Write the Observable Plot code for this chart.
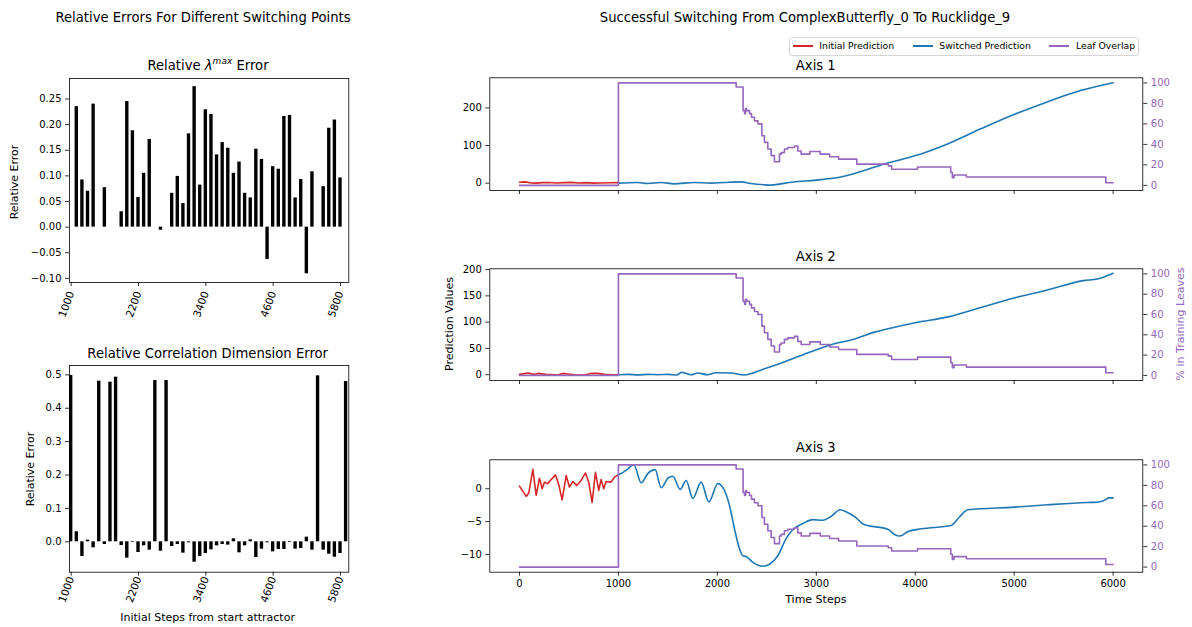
<!DOCTYPE html>
<html><head><meta charset="utf-8">
<script src="https://cdn.jsdelivr.net/npm/d3@7"></script>
<script src="https://cdn.jsdelivr.net/npm/@observablehq/plot@0.6"></script>
<style>
body{margin:0;background:#fff;font-family:"DejaVu Sans",sans-serif;}
#root{position:relative;width:1192px;height:627px;overflow:hidden;background:#fff;}
.pos{position:absolute;}
.t{position:absolute;white-space:nowrap;transform:translate(-50%,-50%);color:#000;line-height:1;}
.rot{transform:translate(-50%,-50%) rotate(-90deg);}
</style></head><body><div id="root"></div>
<script>
// ---------- data: left panels ----------
const steps = [1000,1100,1200,1300,1400,1500,1600,1700,1800,1900,2000,2100,2200,2300,2400,2500,2600,2700,2800,2900,3000,3100,3200,3300,3400,3500,3600,3700,3800,3900,4000,4100,4200,4300,4400,4500,4600,4700,4800,4900,5000,5100,5200,5300,5400,5500,5600,5700,5800,5900];
const lambdaErr = [null,0.235,0.092,0.070,0.240,null,0.077,null,null,0.030,0.245,0.188,0.058,0.105,0.171,null,-0.006,null,0.066,0.099,0.046,0.182,0.274,0.082,0.229,0.220,0.141,0.165,0.154,0.105,0.127,0.066,0.057,0.152,0.132,-0.063,0.118,0.113,0.216,0.218,0.057,0.093,-0.091,0.108,null,0.079,0.193,0.209,0.096,null];
const corrErr = [0.498,0.030,-0.044,0.005,-0.018,0.481,-0.008,0.478,0.493,-0.011,-0.049,-0.002,-0.032,-0.012,-0.025,0.483,-0.028,0.483,-0.014,-0.008,-0.034,-0.003,-0.061,-0.044,-0.035,-0.024,-0.012,-0.008,-0.010,0.009,-0.033,-0.012,0.006,-0.047,-0.022,-0.003,-0.030,-0.023,-0.023,-0.002,-0.022,-0.020,0.014,-0.025,0.497,-0.025,-0.037,-0.046,-0.035,0.480];
const stepTicks = [1000,2200,3400,4600,5800];
const lambdaTicks = [-0.10,-0.05,0.00,0.05,0.10,0.15,0.20,0.25];
const corrTicks = [0.0,0.1,0.2,0.3,0.4,0.5];

// ---------- data: right panels ([time step, value]) ----------
const timeTicks = [0,1000,2000,3000,4000,5000,6000];
const pctTicks = [0,20,40,60,80,100];
const axis1Ticks = [0,100,200];
const axis2Ticks = [0,50,100,150,200];
const axis3Ticks = [-10,-5,0];

const initial1 = [[0,2.5],[60,3.5],[120,0.5],[170,0],[230,1.5],[300,1.8],[380,0.5],[450,1.5],[520,2],[600,0.5],[680,1.5],[750,0],[820,0.5],[900,1],[1000,1.5]];
const switched1 = [[1000,0],[1194,1.8],[1295,-0.8],[1430,1.8],[1564,-1.8],[1766,1.8],[1934,0],[2069,1.8],[2237,3.5],[2338,-1],[2472,-4.4],[2540,-5.3],[2640,-1.8],[2750,2.5],[3000,8],[3258,16.8],[3493,34.5],[3728,54],[3997,72.6],[4332,105],[4668,145],[5003,183],[5335,216],[5670,246],[6000,267]];

const initial2 = [[0,0.6],[84,3.2],[151,0.6],[185,2.5],[269,0.6],[387,-0.6],[437,2.5],[488,1.3],[555,0],[656,-0.6],[723,2.5],[790,2.5],[858,0.6],[942,0],[1000,0]];
const switched2 = [[1000,0],[1100,0.6],[1200,-0.3],[1300,0.6],[1400,0],[1500,0.6],[1590,-0.6],[1638,4.4],[1732,0],[1800,3.2],[1900,0],[1985,3.8],[2136,3.2],[2270,-0.6],[2470,11],[2640,22],[2810,34],[2980,46],[3150,57],[3390,68],[3590,81],[3760,89],[4000,99],[4330,110],[4665,128],[5000,146],[5335,161],[5700,179],[5840,182],[6000,193]];

const initial3 = [[0,0.4],[68,-1.17],[95,-0.6],[135,2.94],[169,-1.0],[202,1.6],[229,0],[252,1.0],[286,0.76],[320,1.4],[364,2.1],[397,0.6],[431,-1.7],[472,2.0],[505,0.25],[539,1.1],[579,0.5],[623,1.26],[667,2.4],[700,1.0],[734,-2.1],[768,2.5],[801,-0.26],[825,1.4],[852,0],[875,1.1],[926,1.0],[960,1.77],[1000,2.1]];
const switched3 = [[1000,2.1],[1078,2.8],[1156,3.65],[1230,0.9],[1297,2.3],[1371,2.9],[1432,0.15],[1500,1.6],[1550,1.9],[1624,-0.1],[1685,1.26],[1752,-1.5],[1836,1.0],[1914,-2.0],[2005,0.8],[2055,0.2],[2122,-2.5],[2173,-6.1],[2223,-9.1],[2258,-10.2],[2291,-10.3],[2359,-11.2],[2460,-11.8],[2527,-11.5],[2611,-10.2],[2695,-7.6],[2763,-6.2],[2864,-5.3],[2965,-4.7],[3066,-4.8],[3150,-4.2],[3240,-3.2],[3300,-3.5],[3400,-4.4],[3476,-5.4],[3727,-6.2],[3794,-7.0],[3844,-7.2],[3928,-6.5],[4062,-6.1],[4363,-5.6],[4447,-4.3],[4531,-3.2],[5000,-2.8],[5335,-2.45],[5737,-2.1],[5838,-2.05],[5921,-1.7],[5955,-1.4],[6000,-1.4]];

const leafOverlap = [[0,0],[1000,100],[2190,96],[2260,73],[2275,70],[2285,75],[2295,73],[2325,70],[2345,66.5],[2375,63],[2410,60],[2450,48.5],[2476,42],[2510,35.5],[2544,29],[2577,23],[2628,30.5],[2645,32],[2678,35.5],[2712,37],[2779,38.5],[2813,33.5],[2847,30.5],[2935,33],[3040,30.5],[3135,28],[3225,25.6],[3409,20.7],[3728,19],[3762,15.7],[4023,18],[4359,12.5],[4375,7.5],[4392,10.2],[4517,8.2],[5926,2.6],[6000,2.6]];

// ---------- styling ----------
const RED = "#d62728", BLUE = "#1f77b4", PURPLE = "#9467bd";
const FONT = '"DejaVu Sans", sans-serif';
const svgStyle = {fontFamily: FONT, fontSize: "10px", color: "#000", background: "transparent", overflow: "visible"};
const root = document.getElementById("root");

function place(el, left, top) {
  const d = document.createElement("div");
  d.className = "pos";
  d.style.left = left + "px"; d.style.top = top + "px";
  d.appendChild(el); root.appendChild(d);
}
function label(html, x, y, size, opts = {}) {
  const d = document.createElement("div");
  d.className = "t" + (opts.rot ? " rot" : "");
  d.style.left = x + "px"; d.style.top = y + "px";
  d.style.fontSize = size + "px";
  if (opts.color) d.style.color = opts.color;
  d.innerHTML = html; root.appendChild(d);
}

// ---------- left bar charts ----------
function barChart(values, top, mt, mb, yDomain, yTicks, yFmt, labelDy) {
  const rows = steps.map((s, i) => ({s, v: values[i]})).filter(d => d.v != null);
  const W = 365, H = 280;
  const p = Plot.plot({
    width: W, height: H, marginLeft: 69, marginRight: W - 348.3, marginTop: mt, marginBottom: mb,
    x: {domain: [970, 5948], label: null},
    y: {domain: yDomain, label: null},
    style: svgStyle,
    marks: [
      Plot.rect(rows, {x1: d => d.s - 30, x2: d => d.s + 30, y1: 0, y2: "v", fill: "#000"}),
      Plot.axisX(stepTicks, {tickSize: 4, tickFormat: () => "", label: null, strokeWidth: 0.8}),
      Plot.text(stepTicks, {x: d => d, frameAnchor: "bottom", text: d => String(d), rotate: -70, dy: labelDy, dx: -1.5, fontSize: 10.5}),
      Plot.axisY(yTicks, {tickSize: 4, tickPadding: 4, tickFormat: yFmt, label: null, fontSize: 10, strokeWidth: 0.8}),
      Plot.frame({stroke: "#000", strokeWidth: 0.8})
    ]
  });
  place(p, 0, top);
}
barChart(lambdaErr, 55, 23, 280 - (282 - 55), [-0.108, 0.290], lambdaTicks, d3.format(".2f"), 23);
barChart(corrErr, 345, 20, 280 - (571.7 - 345), [-0.091, 0.528], corrTicks, d3.format(".1f"), 18.5);

// ---------- right line panels ----------
function linePanel(top, H, mt, mb, yDomain, yTicks, init, sw, showX) {
  const W = 762, ML = 59.3, MR = 762 - 712.3;
  const base = Plot.plot({
    width: W, height: H, marginLeft: ML, marginRight: MR, marginTop: mt, marginBottom: mb,
    x: {domain: [-300, 6300], label: null},
    y: {domain: yDomain, label: null},
    style: svgStyle,
    marks: [
      Plot.line(init, {x: d => d[0], y: d => d[1], stroke: RED, strokeWidth: 1.6}),
      Plot.line(sw, {x: d => d[0], y: d => d[1], stroke: BLUE, strokeWidth: 1.6, curve: "monotone-x"}),
      Plot.axisX(timeTicks, {tickSize: 4, tickPadding: 4, tickFormat: showX ? d3.format("d") : () => "", label: null, fontSize: 10, strokeWidth: 0.8}),
      Plot.axisY(yTicks, {tickSize: 4, tickPadding: 4, tickFormat: d3.format("d"), label: null, fontSize: 10, strokeWidth: 0.8}),
      Plot.frame({stroke: "#000", strokeWidth: 0.8})
    ]
  });
  place(base, 430, top);
  const over = Plot.plot({
    width: W, height: H, marginLeft: ML, marginRight: MR, marginTop: mt, marginBottom: mb,
    x: {domain: [-300, 6300], axis: null},
    y: {domain: [-5, 105], label: null},
    style: svgStyle,
    marks: [
      Plot.line(leafOverlap, {x: d => d[0], y: d => d[1], stroke: PURPLE, strokeWidth: 1.6, curve: "step-after"}),
      Plot.axisY(pctTicks, {anchor: "right", tickSize: 4, tickFormat: () => "", label: null, strokeWidth: 0.8}),
      Plot.text(pctTicks, {y: d => d, frameAnchor: "right", text: d => String(d), dx: 8, textAnchor: "start", fill: PURPLE, fontSize: 10})
    ]
  });
  place(over, 430, top);
}
linePanel(60, 145, 17.3, 145 - (190 - 60), [-19.5, 280], axis1Ticks, initial1, switched1, false);
linePanel(250, 145, 18.3, 145 - (380 - 250), [-11, 201.5], axis2Ticks, initial2, switched2, false);
linePanel(440, 150, 19.3, 150 - (571.7 - 440), [-12.7, 4.4], axis3Ticks, initial3, switched3, true);

// ---------- texts ----------
label("Relative Errors For Different Switching Points", 203, 18, 13.2);
label("Successful Switching From ComplexButterfly_0 To Rucklidge_9", 805, 18, 13.2);
label('Relative <i>λ</i><sup style="font-size:9px;font-style:italic;vertical-align:6px">max</sup> Error', 208, 65, 13.2);
label("Relative Correlation Dimension Error", 207.7, 354, 13.2);
label("Relative Error", 14.2, 181.7, 11, {rot: true});
label("Relative Error", 30, 469.2, 11, {rot: true});
label("Initial Steps from start attractor", 207.6, 617, 11);
label("Axis 1", 815.8, 66, 13.2);
label("Axis 2", 815.8, 257.3, 13.2);
label("Axis 3", 815.8, 448.3, 13.2);
label("Time Steps", 815.8, 599, 11);
label("Prediction Values", 449.2, 324, 11, {rot: true});
label("% in Training Leaves", 1180, 324, 11, {rot: true, color: PURPLE});

// ---------- legend ----------
const legendItems = [["Initial Prediction", RED, 2.7], ["Switched Prediction", BLUE, 122.7], ["Leaf Overlap", PURPLE, 259.3]];
const lg = document.createElement("div");
lg.className = "pos";
Object.assign(lg.style, {left: "789px", top: "37px", width: "348px", height: "17px", border: "1px solid #d6d6d6", borderRadius: "3px", background: "rgba(255,255,255,0.8)"});
legendItems.forEach(([name, col, x]) => {
  const ln = document.createElement("div");
  Object.assign(ln.style, {position: "absolute", left: x + "px", top: "7.2px", width: "20px", height: "1.6px", background: col});
  lg.appendChild(ln);
  const tx = document.createElement("div");
  Object.assign(tx.style, {position: "absolute", left: (x + 26.6) + "px", top: "8px", transform: "translateY(-50%)", fontSize: "9.3px", whiteSpace: "nowrap", lineHeight: "1", color: "#000"});
  tx.textContent = name;
  lg.appendChild(tx);
});
root.appendChild(lg);
</script></body></html>
